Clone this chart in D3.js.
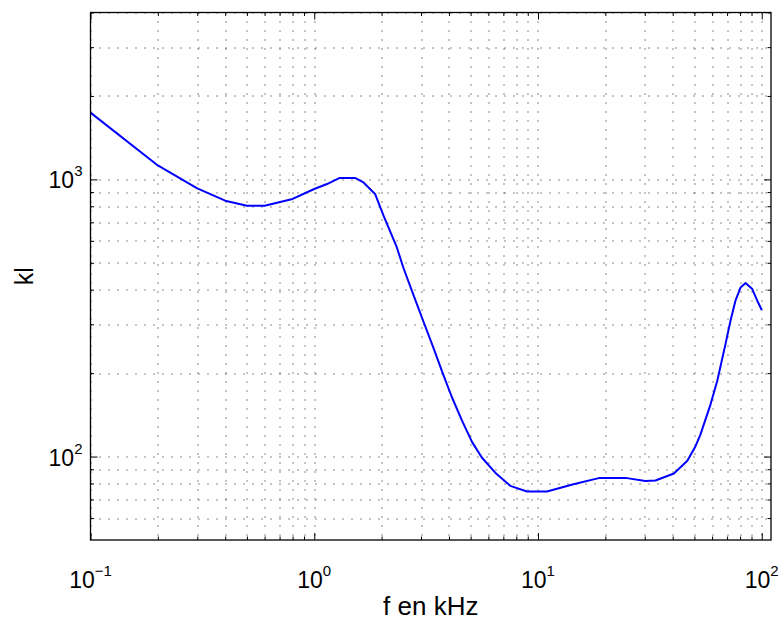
<!DOCTYPE html>
<html>
<head>
<meta charset="utf-8">
<script src="https://cdn.jsdelivr.net/npm/d3@7"></script>
<style>
  body { margin: 0; background: #fff; }
  svg text { font-family: "Liberation Sans", Arial, Helvetica, sans-serif; fill: #000; }
</style>
</head>
<body>
<div id="chart"></div>
<script>
// Frequency in kHz and kl
var freqKHz = [0.1, 0.2, 0.3, 0.4, 0.5, 0.6, 0.8, 1.0, 1.14, 1.3, 1.52, 1.66, 1.87, 2.04, 2.34, 2.5, 2.82, 3.1, 3.4,
               3.75, 4.12, 4.57, 5.07, 5.61, 6.44, 7.52, 8.93, 10.97, 14.4, 18.7, 25, 30.2, 33.5, 40.5, 46.5, 50.6,
               53.2, 59, 63.2, 68.9, 72.5, 76.3, 80.4, 84.7, 90.7, 95.5, 100];
var klValues = [1741, 1123, 928, 838, 803, 803, 850, 923, 962, 1012, 1012, 975, 886, 740, 568, 481, 370, 302, 248,
                200, 164, 135, 113, 99.2, 87.5, 78.4, 74.8, 74.8, 79.4, 83.6, 83.6, 81.7, 82, 86.9, 96.5, 109,
                120, 154, 187, 255, 309, 365, 407, 423, 402, 365, 338];

// Axis limits and ticks
var xDomain = [0.1, 110];
var yDomain = [50, 4000];
var xMajorTicks = [0.1, 1, 10, 100];
var xTickExps = ["\u22121", "0", "1", "2"];
var yMajorTicks = [100, 1000];
var yTickExps = ["2", "3"];
var xMinorTicks = [0.2, 0.3, 0.4, 0.5, 0.6, 0.7, 0.8, 0.9, 2, 3, 4, 5, 6, 7, 8, 9,
                   20, 30, 40, 50, 60, 70, 80, 90];
var yMinorTicks = [60, 70, 80, 90, 200, 300, 400, 500, 600, 700, 800, 900, 2000, 3000, 4000];

var width = 783, height = 622;
var margin = { top: 12.5, right: 12, bottom: 82, left: 90.5 };
var plotW = width - margin.left - margin.right;
var plotH = height - margin.top - margin.bottom;

var svg = d3.select("#chart").append("svg")
    .attr("width", width)
    .attr("height", height);

var x = d3.scaleLog().domain(xDomain).range([0, plotW]);
var y = d3.scaleLog().domain(yDomain).range([plotH, 0]);

var g = svg.append("g")
    .attr("transform", "translate(" + margin.left + "," + margin.top + ")");

// Dotted grid on every decade and sub-decade
var grid = g.append("g").attr("class", "grid")
    .attr("stroke", "#111")
    .attr("stroke-width", 1)
    .attr("stroke-dasharray", "1,8");

grid.selectAll("line.vx")
    .data(xMajorTicks.concat(xMinorTicks))
    .enter().append("line")
    .attr("class", "vx")
    .attr("x1", function (d) { return Math.round(x(d)) + 0.5; })
    .attr("x2", function (d) { return Math.round(x(d)) + 0.5; })
    .attr("y1", 0)
    .attr("y2", plotH);

grid.selectAll("line.hy")
    .data(yMajorTicks.concat(yMinorTicks))
    .enter().append("line")
    .attr("class", "hy")
    .attr("x1", 0)
    .attr("x2", plotW)
    .attr("y1", function (d) { return Math.round(y(d)) + 0.5; })
    .attr("y2", function (d) { return Math.round(y(d)) + 0.5; });

// Curve (straight segments between samples)
var line = d3.line()
    .x(function (d) { return x(d[0]); })
    .y(function (d) { return y(d[1]); });

g.append("path")
    .datum(d3.zip(freqKHz, klValues))
    .attr("d", line)
    .attr("fill", "none")
    .attr("stroke", "#0000ff")
    .attr("stroke-width", 2)
    .attr("stroke-linejoin", "round");

// Inward ticks on all four sides
var majorLen = 7, minorLen = 3.5;

function addAxis(axisFn, scale, ticks, len, transform) {
    var a = g.append("g")
        .attr("transform", transform)
        .call(axisFn(scale).tickValues(ticks).tickSizeInner(-len).tickSizeOuter(0).tickFormat(""));
    a.select(".domain").remove();
    a.selectAll(".tick line").attr("stroke", "#000").attr("stroke-width", 1);
}

addAxis(d3.axisBottom, x, xMajorTicks, majorLen, "translate(0," + plotH + ")");
addAxis(d3.axisBottom, x, xMinorTicks, minorLen, "translate(0," + plotH + ")");
addAxis(d3.axisTop, x, xMajorTicks, majorLen, "translate(0,0)");
addAxis(d3.axisTop, x, xMinorTicks, minorLen, "translate(0,0)");
addAxis(d3.axisLeft, y, yMajorTicks, majorLen, "translate(0,0)");
addAxis(d3.axisLeft, y, yMinorTicks, minorLen, "translate(0,0)");
addAxis(d3.axisRight, y, yMajorTicks, majorLen, "translate(" + plotW + ",0)");
addAxis(d3.axisRight, y, yMinorTicks, minorLen, "translate(" + plotW + ",0)");

// Box
g.append("rect")
    .attr("x", 0).attr("y", 0)
    .attr("width", plotW).attr("height", plotH)
    .attr("fill", "none")
    .attr("stroke", "#000")
    .attr("stroke-width", 1.3);

// Tick labels as 10^n
var xl = g.selectAll("text.xtick")
    .data(xMajorTicks)
    .enter().append("text")
    .attr("class", "xtick")
    .attr("x", function (d) { return x(d); })
    .attr("y", plotH + 48)
    .attr("text-anchor", "middle");
xl.append("tspan").attr("font-size", 23).text("10");
xl.append("tspan").attr("font-size", 15).attr("dy", -12)
    .text(function (d, i) { return xTickExps[i]; });

var yl = g.selectAll("text.ytick")
    .data(yMajorTicks)
    .enter().append("text")
    .attr("class", "ytick")
    .attr("x", -8)
    .attr("y", function (d) { return y(d) + 9; })
    .attr("text-anchor", "end");
yl.append("tspan").attr("font-size", 23).text("10");
yl.append("tspan").attr("font-size", 15).attr("dy", -12)
    .text(function (d, i) { return yTickExps[i]; });

// Axis titles
svg.append("text")
    .attr("x", margin.left + plotW / 2)
    .attr("y", 615)
    .attr("text-anchor", "middle")
    .attr("font-size", 26)
    .text("f en kHz");

svg.append("text")
    .attr("transform", "translate(33," + (margin.top + plotH / 2) + ") rotate(-90)")
    .attr("text-anchor", "middle")
    .attr("font-size", 25)
    .text("kl");
</script>
</body>
</html>
